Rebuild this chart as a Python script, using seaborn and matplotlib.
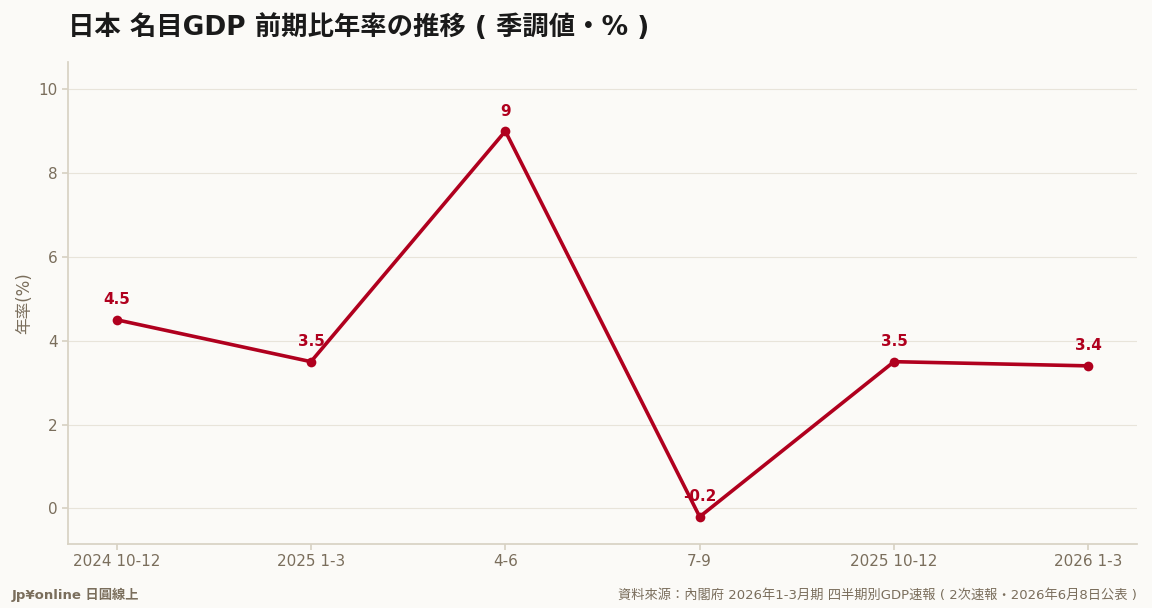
import matplotlib
matplotlib.use("Agg")
import matplotlib.pyplot as plt
import seaborn as sns
import pandas as pd

quarters = ["2024 10-12", "2025 1-3", "4-6", "7-9", "2025 10-12", "2026 1-3"]
rates = [4.5, 3.5, 9.0, -0.2, 3.5, 3.4]
labels = ["4.5", "3.5", "9", "-0.2", "3.5", "3.4"]

sns.set_theme(style="white")
plt.rcParams['font.family'] = ['DejaVu Sans', 'Noto Sans CJK JP']

bg = "#fbfaf7"
red = "#b0001e"
grey = "#7a6e5c"

df = pd.DataFrame({"q": range(len(quarters)), "rate": rates})

fig = plt.figure(figsize=(11.52, 6.08), dpi=100, facecolor=bg)
ax = fig.add_axes([68 / 1152, 1 - 544 / 608, (1137 - 68) / 1152, (544 - 62) / 608])
ax.set_facecolor(bg)

sns.lineplot(data=df, x="q", y="rate", ax=ax, color=red, linewidth=2.6,
             marker="o", markersize=7, markeredgewidth=0)

for i, (v, t) in enumerate(zip(rates, labels)):
    ax.annotate(t, (i, v), xytext=(0, 9), textcoords="offset points",
                ha="center", va="bottom", color=red, fontsize=11, fontweight="bold")

ax.set_xlim(-0.25, len(quarters) - 0.75)
ax.set_ylim(-0.85, 10.65)
ax.set_xticks(range(len(quarters)))
ax.set_xticklabels(quarters)
ax.set_yticks([0, 2, 4, 6, 8, 10])
ax.tick_params(axis="both", colors=grey, labelsize=11, length=4, left=True, bottom=True)
ax.tick_params(axis="both", color="#d8d2c4")
ax.grid(axis="y", color="#e8e4da", linewidth=0.8)
ax.set_xlabel("")
ax.set_ylabel("年率(%)", color=grey, fontsize=12)
for s in ["top", "right"]:
    ax.spines[s].set_visible(False)
for s in ["left", "bottom"]:
    ax.spines[s].set_color("#d8d2c4")

fig.text(68 / 1152, 1 - 28 / 608, "日本 名目GDP 前期比年率の推移 ( 季調値・% )",
         fontsize=19, fontweight="bold", color="#1a1a1a", va="center")
fig.text(12 / 1152, 1 - 595 / 608, "Jp¥online 日圓線上", fontsize=9.5,
         color=grey, va="center", fontweight="bold")
fig.text(1137 / 1152, 1 - 595 / 608,
         "資料來源：內閣府 2026年1-3月期 四半期別GDP速報 ( 2次速報・2026年6月8日公表 )",
         fontsize=9.5, color=grey, va="center", ha="right")

fig.savefig("out.png", dpi=100, facecolor=bg)
